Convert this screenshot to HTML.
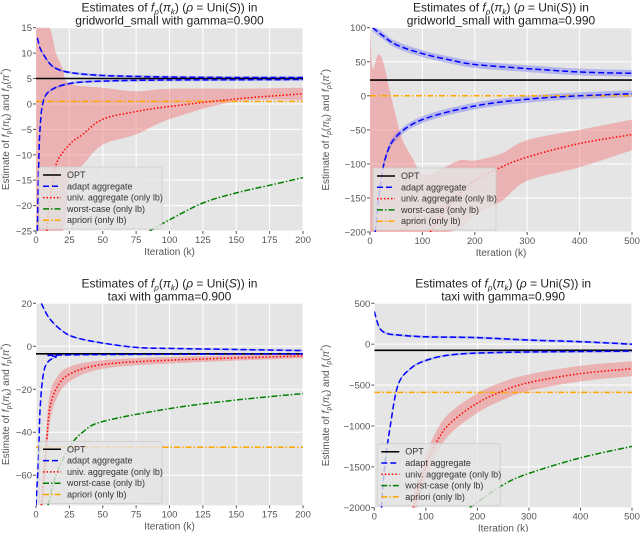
<!DOCTYPE html>
<html><head><meta charset="utf-8"><style>
body{margin:0;background:#fff;width:640px;height:532px;overflow:hidden;font-family:"Liberation Sans","DejaVu Sans",sans-serif}
</style></head><body>
<svg id="fig" width="640" height="532" xmlns="http://www.w3.org/2000/svg"></svg>
<script>
// ---------- Panel A: gridworld_small gamma=0.900 ----------
const aAdaptUpK=[1,3,5,10,15,25,50,100,150,200];
const aAdaptUpV=[13,11,10,8,7,6.2,5.6,5.3,5.2,5.2];
const aAdaptLoK=[1,2,3,5,10,25,50,100,200];
const aAdaptLoV=[-25,-12,-5,0,2.5,4,4.5,4.7,4.8];
const aOpt=5;
const aApriori=0.5;
const aUnivK=[8,10,15,25,35,50,75,100,150,200];
const aUnivV=[-25,-20,-12,-8,-6,-3,-1.5,-0.5,1,2];
const aBandUpK=[0,10,15,20,25,50,75,100,150,200];
const aBandUpV=[15,15,10,7,4,3.2,2.5,3,3,3.2];
const aBandLoK=[0,20,25,35,50,75,100,150,200];
const aBandLoV=[-25,-25,-15,-12,-8,-6,-3,0.5,0.8];
const aWorstK=[85,100,125,150,175,200];
const aWorstV=[-25,-22.8,-19.5,-17.5,-16,-14.5];
const aXTicks=[0,25,50,75,100,125,150,175,200];
const aYTicks=[15,10,5,0,-5,-10,-15,-20,-25];
// ---------- Panel B: gridworld_small gamma=0.990 ----------
const bAdaptUpK=[5,25,50,100,150,200,300,400,500];
const bAdaptUpV=[100,88,75,62,53,46,40,35,33];
const bAdaptLoK=[10,15,20,30,50,100,200,300,400,500];
const bAdaptLoV=[-200,-160,-130,-90,-60,-35,-15,-5,0,3];
const bOpt=23;
const bApriori=0;
const bUnivK=[115,150,200,250,300,400,500];
const bUnivV=[-200,-160,-125,-105,-90,-70,-57];
const bBandUpK=[0,5,15,25,40,60,80,100,130,170,200,250,300,400,500];
const bBandUpV=[100,40,60,50,0,-60,-90,-115,-110,-95,-95,-85,-65,-50,-35];
const bBandLoK=[0,150,200,250,300,400,500];
const bBandLoV=[-200,-200,-175,-155,-125,-105,-80];
const bXTicks=[0,100,200,300,400,500];
const bYTicks=[100,50,0,-50,-100,-150,-200];
// ---------- Panel C: taxi gamma=0.900 ----------
const cAdaptUpK=[4,10,20,30,50,75,100,150,200];
const cAdaptUpV=[20,13,7,4,1.5,-0.5,-1,-1.5,-2];
const cAdaptLoK=[0,2,3,5,8,15,25,200];
const cAdaptLoV=[-74,-50,-30,-15,-8,-5,-4,-3.5];
const cOpt=-3.5;
const cApriori=-47;
const cUnivK=[4,6,8,10,15,25,50,100,200];
const cUnivV=[-74,-60,-45,-30,-20,-13,-8.5,-6.5,-4.5];
const cUnivHalf=[10,9,8,7,5,3.5,2,1.5,1];
const cWorstK=[9,15,25,35,50,100,150,200];
const cWorstV=[-74,-60,-47,-40,-35,-29,-25,-22];
const cXTicks=[0,25,50,75,100,125,150,175,200];
const cYTicks=[20,0,-20,-40,-60];
// ---------- Panel D: taxi gamma=0.990 ----------
const dAdaptUpK=[0,10,25,50,100,200,300,400,500];
const dAdaptUpV=[400,200,130,110,90,80,50,30,0];
const dAdaptLoK=[14,20,31,46,70,100,150,250,500];
const dAdaptLoV=[-2000,-1500,-1000,-500,-300,-200,-130,-100,-85];
const dOpt=-75;
const dApriori=-590;
const dUnivK=[75,100,125,150,200,250,300,400,500];
const dUnivV=[-2000,-1500,-1150,-950,-720,-570,-470,-360,-300];
const dUnivHalf=[160,150,140,130,120,110,100,95,90];
const dWorstK=[185,250,300,400,500];
const dWorstV=[-2000,-1720,-1580,-1390,-1250];
const dXTicks=[0,100,200,300,400,500];
const dYTicks=[500,0,-500,-1000,-1500,-2000];

const NS="http://www.w3.org/2000/svg";
const fig=document.getElementById('fig');
function el(tag,attrs,parent){const e=document.createElementNS(NS,tag);for(const k in attrs)e.setAttribute(k,attrs[k]);(parent||fig).appendChild(e);return e;}
function smooth(P){ // catmull-rom through points
  let d='M'+P[0][0].toFixed(1)+','+P[0][1].toFixed(1);
  for(let i=0;i<P.length-1;i++){const p0=P[Math.max(0,i-1)],p1=P[i],p2=P[i+1],p3=P[Math.min(P.length-1,i+2)];
    const c1=[p1[0]+(p2[0]-p0[0])/6,p1[1]+(p2[1]-p0[1])/6],c2=[p2[0]-(p3[0]-p1[0])/6,p2[1]-(p3[1]-p1[1])/6];
    d+=' C'+c1.map(v=>v.toFixed(1)).join(',')+' '+c2.map(v=>v.toFixed(1)).join(',')+' '+p2[0].toFixed(1)+','+p2[1].toFixed(1);}
  return d;}
function smoothCont(P){return smooth(P).replace(/^M/,'L');}

function panel(o){
  const g=el('g',{});
  
  
  const sx=v=>o.L+(v-o.xmin)/(o.xmax-o.xmin)*(o.R-o.L);
  const sy=v=>o.T+(o.ymax-v)/(o.ymax-o.ymin)*(o.B-o.T);
  const clipId='clip'+o.name;
  const cp=el('clipPath',{id:clipId},g);el('rect',{x:o.L,y:o.T,width:o.R-o.L,height:o.B-o.T},cp);
  const bg=el('rect',{x:o.L,y:o.T,width:o.R-o.L,height:o.B-o.T,fill:'#e5e5e5'},g);
  
  const grid=el('g',{stroke:'#fff','stroke-width':1},g);
  
  o.xt.forEach(t=>{el('line',{x1:sx(t),x2:sx(t),y1:o.T,y2:o.B},grid);
    el('line',{x1:sx(t),x2:sx(t),y1:o.B,y2:o.B+3,stroke:'#555'},g);
    const tx=el('text',{x:sx(t),y:o.B+12,'font-size':9.5,fill:'#555','text-anchor':'middle'},g);tx.textContent=t<0?'−'+(-t):t;
    });
  o.yt.forEach(t=>{el('line',{x1:o.L,x2:o.R,y1:sy(t),y2:sy(t)},grid);
    el('line',{x1:o.L-3,x2:o.L,y1:sy(t),y2:sy(t),stroke:'#555'},g);
    const ty=el('text',{x:o.L-4,y:sy(t)+3.5,'font-size':9.5,fill:'#555','text-anchor':'end'},g);ty.textContent=t<0?'−'+(-t):t;
    });
  const c=el('g',{'clip-path':'url(#'+clipId+')',fill:'none'},g);
  const P=(K,V)=>K.map((k,i)=>[sx(k),sy(V[i])]);
  function band(upK,upV,loK,loV,fill,name){
    const up=P(upK,upV), lo=P(loK,loV).reverse();
    const d=smooth(up)+' '+smoothCont(lo)+' Z';
    const p=el('path',{d:d,fill:fill,stroke:'none'},c);
    }
  function line(K,V,stroke,dash,w,name){
    const p=el('path',{d:smooth(P(K,V)),stroke:stroke,'stroke-width':w||1.5,'stroke-dasharray':dash||'none',fill:'none'},c);
    }
  function hline(v,stroke,dash,w,name){line([o.xmin,o.xmax],[v,v],stroke,dash,w,name);}
  if(o.bandUpK) band(o.bandUpK,o.bandUpV,o.bandLoK,o.bandLoV,'rgba(240,128,128,0.5)','univ-band');
  if(o.univHalf) band(o.univK,o.univV.map((v,i)=>v+o.univHalf[i]),o.univK,o.univV.map((v,i)=>v-o.univHalf[i]),'rgba(240,128,128,0.5)','univ-band');
  const bw=o.adaptBand;
  band(o.auK,o.auV.map(v=>v+bw),o.auK,o.auV.map(v=>v-bw),'rgba(70,70,255,0.3)','adapt-upper-band');
  band(o.alK,o.alV.map(v=>v+bw),o.alK,o.alV.map(v=>v-bw),'rgba(70,70,255,0.3)','adapt-lower-band');
  hline(o.opt,'#000','none',1.6,'opt-line');
  hline(o.apriori,'orange','6,2,1.5,2',1.5,'apriori-line');
  line(o.auK,o.auV,'blue','6,3',1.5,'adapt-aggregate-upper');
  line(o.alK,o.alV,'blue','6,3',1.5,'adapt-aggregate-lower');
  line(o.univK,o.univV,'red','1.5,2',1.5,'univ-aggregate-line');
  if(o.worstK) line(o.worstK,o.worstV,'green','6,2,1.5,2',1.5,'worst-case-line');
  const tt=el('text',{x:(o.L+o.R)/2,y:o.T-16,'font-size':12,fill:'#222','text-anchor':'middle'},g);
  
  tt.innerHTML='Estimates of <tspan font-style="italic">f</tspan><tspan font-size="8" dy="3" font-style="italic">ρ</tspan><tspan dy="-3">(</tspan><tspan font-style="italic">π</tspan><tspan font-size="8" dy="3" font-style="italic">k</tspan><tspan dy="-3">) (</tspan><tspan font-style="italic">ρ</tspan> = Uni(<tspan font-style="italic">S</tspan>)) in';
  const t2=el('text',{x:(o.L+o.R)/2,y:o.T-3,'font-size':12,fill:'#222','text-anchor':'middle'},g);
  t2.textContent=o.title2;
  const xl=el('text',{x:(o.L+o.R)/2,y:o.B+24,'font-size':10,fill:'#555','text-anchor':'middle'},g);
  xl.textContent='Iteration (k)';
  const yx=o.panelX+9, ym=(o.T+o.B)/2;
  const yl=el('text',{x:yx,y:ym,'font-size':10,fill:'#555','text-anchor':'middle',transform:'rotate(-90 '+yx+' '+ym+')'},g);
  
  yl.innerHTML='Estimate of <tspan font-style="italic">f</tspan><tspan font-size="7" dy="2">ρ</tspan><tspan dy="-2">(</tspan><tspan font-style="italic">π</tspan><tspan font-size="7" dy="2">k</tspan><tspan dy="-2">) and </tspan><tspan font-style="italic">f</tspan><tspan font-size="7" dy="2">ρ</tspan><tspan dy="-2">(</tspan><tspan font-style="italic">π</tspan><tspan font-size="7" dy="-4">*</tspan><tspan dy="4">)</tspan>';
  const lg=el('g',{},g);
  const lx=o.L+3,ly=o.B-64;
  el('rect',{x:lx,y:ly,width:123,height:62,rx:2,fill:'rgba(229,229,229,0.8)',stroke:'#ccc','stroke-width':0.8},lg);
  const items=[['OPT','#000','none'],['adapt aggregate','blue','6,3'],['univ. aggregate (only lb)','red','1.5,2'],['worst-case (only lb)','green','6,2,1.5,2'],['apriori (only lb)','orange','6,2,1.5,2']];
  items.forEach((it,i)=>{const yy=ly+8+i*11.3;
    const e=el('g',{},lg);
    el('line',{x1:lx+4,x2:lx+22,y1:yy,y2:yy,stroke:it[1],'stroke-width':1.5,'stroke-dasharray':it[2]},e);
    const t=el('text',{x:lx+28,y:yy+3,'font-size':9,fill:'#333'},e);t.textContent=it[0];});
}

panel({name:'panel-gridworld-0900',panelX:0,L:36,R:303,T:27.7,B:231,xmin:0,xmax:200,ymin:-25,ymax:15,xt:aXTicks,yt:aYTicks,
  auK:aAdaptUpK,auV:aAdaptUpV,alK:aAdaptLoK,alV:aAdaptLoV,adaptBand:0.25,opt:aOpt,apriori:aApriori,univK:aUnivK,univV:aUnivV,
  bandUpK:aBandUpK,bandUpV:aBandUpV,bandLoK:aBandLoK,bandLoV:aBandLoV,worstK:aWorstK,worstV:aWorstV,title2:'gridworld_small with gamma=0.900'});
panel({name:'panel-gridworld-0990',panelX:320,L:370,R:632,T:27.7,B:232,xmin:0,xmax:500,ymin:-200,ymax:100,xt:bXTicks,yt:bYTicks,
  auK:bAdaptUpK,auV:bAdaptUpV,alK:bAdaptLoK,alV:bAdaptLoV,adaptBand:5,opt:bOpt,apriori:bApriori,univK:bUnivK,univV:bUnivV,
  bandUpK:bBandUpK,bandUpV:bBandUpV,bandLoK:bBandLoK,bandLoV:bBandLoV,title2:'gridworld_small with gamma=0.990'});
panel({name:'panel-taxi-0900',panelX:0,L:36,R:303,T:303.3,B:505.3,xmin:0,xmax:200,ymin:-74,ymax:20,xt:cXTicks,yt:cYTicks,
  auK:cAdaptUpK,auV:cAdaptUpV,alK:cAdaptLoK,alV:cAdaptLoV,adaptBand:0.4,opt:cOpt,apriori:cApriori,univK:cUnivK,univV:cUnivV,univHalf:cUnivHalf,
  worstK:cWorstK,worstV:cWorstV,title2:'taxi with gamma=0.900'});
panel({name:'panel-taxi-0990',panelX:320,L:374.3,R:632,T:303.3,B:507.7,xmin:0,xmax:500,ymin:-2000,ymax:500,xt:dXTicks,yt:dYTicks,
  auK:dAdaptUpK,auV:dAdaptUpV,alK:dAdaptLoK,alV:dAdaptLoV,adaptBand:15,opt:dOpt,apriori:dApriori,univK:dUnivK,univV:dUnivV,univHalf:dUnivHalf,
  worstK:dWorstK,worstV:dWorstV,title2:'taxi with gamma=0.990'});
</script>
</body></html>
